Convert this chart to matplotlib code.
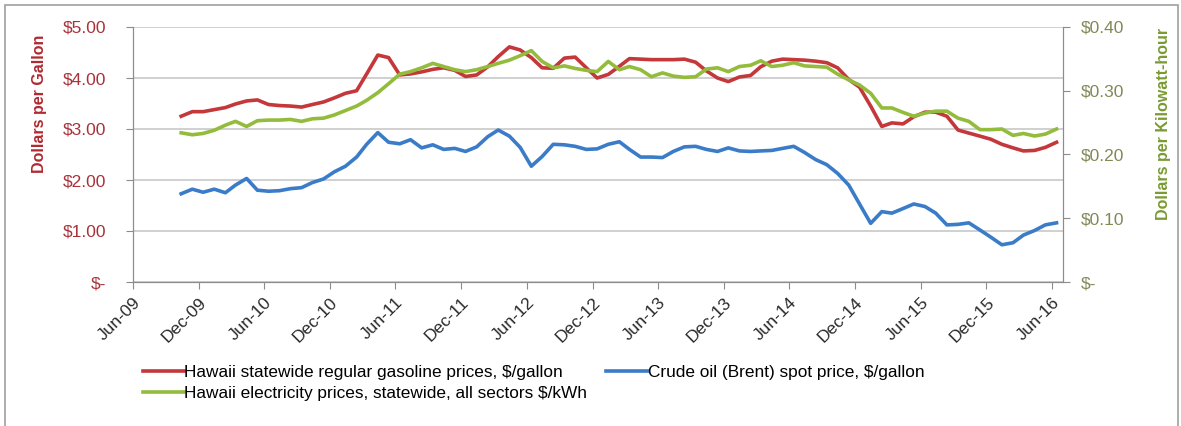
import pandas as pd
import matplotlib.pyplot as plt
import matplotlib.dates as mdates
from matplotlib.patches import Rectangle
from matplotlib.ticker import FuncFormatter, MultipleLocator

plt.rcParams['font.family'] = ['Liberation Sans', 'DejaVu Sans']

# Monthly data, Oct-2009 .. Jun-2016
months = pd.date_range('2009-10-01', '2016-06-01', freq='MS') + pd.Timedelta(days=12)

gasoline = [3.25, 3.34, 3.34, 3.38, 3.42, 3.49, 3.55, 3.57, 3.48, 3.46, 3.45, 3.43,
            3.48, 3.53, 3.61, 3.70, 3.75, 4.08, 4.45, 4.40, 4.06, 4.08, 4.12, 4.17,
            4.20, 4.15, 4.03, 4.06, 4.22, 4.42, 4.61, 4.55, 4.40, 4.20, 4.19, 4.39,
            4.41, 4.20, 4.00, 4.07, 4.23, 4.38, 4.37, 4.36, 4.36, 4.36, 4.37, 4.31,
            4.14, 4.00, 3.93, 4.02, 4.05, 4.22, 4.33, 4.37, 4.36, 4.35, 4.33, 4.30,
            4.20, 3.97, 3.82, 3.45, 3.05, 3.12, 3.10, 3.24, 3.33, 3.33, 3.25, 2.98,
            2.92, 2.86, 2.80, 2.70, 2.63, 2.57, 2.58, 2.64, 2.74]

crude = [1.73, 1.82, 1.76, 1.82, 1.75, 1.90, 2.03, 1.80, 1.78, 1.79, 1.83, 1.85,
         1.95, 2.02, 2.16, 2.27, 2.45, 2.70, 2.93, 2.74, 2.71, 2.79, 2.63, 2.69,
         2.60, 2.62, 2.56, 2.65, 2.85, 2.98, 2.86, 2.64, 2.27, 2.46, 2.70, 2.69,
         2.66, 2.60, 2.61, 2.70, 2.75, 2.60, 2.45, 2.45, 2.44, 2.56, 2.65, 2.66,
         2.60, 2.56, 2.63, 2.57, 2.56, 2.57, 2.58, 2.62, 2.66, 2.54, 2.40, 2.30,
         2.13, 1.90, 1.53, 1.15, 1.38, 1.35, 1.44, 1.53, 1.48, 1.35, 1.12, 1.13,
         1.16, 1.02, 0.88, 0.73, 0.77, 0.92, 1.01, 1.12, 1.16]

electricity = [0.234, 0.231, 0.233, 0.238, 0.246, 0.252, 0.244, 0.253, 0.254, 0.254,
               0.255, 0.252, 0.256, 0.257, 0.262, 0.269, 0.276, 0.285, 0.297, 0.311,
               0.326, 0.330, 0.336, 0.343, 0.338, 0.333, 0.330, 0.333, 0.338, 0.343,
               0.348, 0.355, 0.363, 0.346, 0.336, 0.339, 0.335, 0.332, 0.330, 0.346,
               0.333, 0.338, 0.333, 0.322, 0.328, 0.323, 0.321, 0.322, 0.334, 0.336,
               0.330, 0.338, 0.340, 0.347, 0.338, 0.340, 0.344, 0.339, 0.338, 0.337,
               0.326, 0.317, 0.309, 0.296, 0.273, 0.273, 0.266, 0.260, 0.265, 0.268,
               0.268, 0.257, 0.252, 0.239, 0.239, 0.240, 0.230, 0.233, 0.229, 0.232,
               0.240]

red = '#c4373a'
blue = '#3a7cc8'
green = '#93bb3c'
spine_gray = '#8c8c8c'

fig = plt.figure(figsize=(11.81, 4.26), dpi=100)
ax = fig.add_axes([133 / 1181, 1 - 282 / 426, 930 / 1181, 255 / 426])
ax2 = ax.twinx()

l1, = ax.plot(months, gasoline, color=red, lw=2.6,
              label='Hawaii statewide regular gasoline prices, $/gallon')
l2, = ax.plot(months, crude, color=blue, lw=2.6,
              label='Crude oil (Brent) spot price, $/gallon')
l3, = ax2.plot(months, electricity, color=green, lw=2.6,
               label='Hawaii electricity prices, statewide, all sectors $/kWh')

ax.set_xlim(pd.Timestamp('2009-06-01'), pd.Timestamp('2016-07-01'))
ax.set_ylim(0, 5)
ax2.set_ylim(0, 0.4)

ax.yaxis.set_major_locator(MultipleLocator(1))
ax2.yaxis.set_major_locator(MultipleLocator(0.1))
ax.yaxis.set_major_formatter(FuncFormatter(lambda v, p: '$-' if v == 0 else f'${v:.2f}'))
ax2.yaxis.set_major_formatter(FuncFormatter(lambda v, p: '$-' if abs(v) < 1e-9 else f'${v:.2f}'))

ax.xaxis.set_major_locator(mdates.MonthLocator(bymonth=[6, 12]))
ax.xaxis.set_major_formatter(mdates.DateFormatter('%b-%y'))

ax.grid(axis='y', color='#c8c8c8', lw=1.2)
ax.set_axisbelow(True)

for a in (ax, ax2):
    for s in a.spines.values():
        s.set_color(spine_gray)
    a.spines['top'].set_visible(False)

ax.tick_params(axis='y', colors=spine_gray, labelcolor='#a8323a', labelsize=12.5,
               length=5, pad=14)
ax2.tick_params(axis='y', colors=spine_gray, labelcolor='#7f8a55', labelsize=12.5,
                length=5, pad=8)
ax.tick_params(axis='x', colors=spine_gray, labelcolor='#2a2a2a', labelsize=12.5,
               length=5, pad=4)
for lbl in ax.get_xticklabels():
    lbl.set_rotation(45)
    lbl.set_ha('right')
    lbl.set_rotation_mode('anchor')

ax.set_ylabel('Dollars per Gallon', color='#b02a30', fontweight='bold', fontsize=11.5)
ax.yaxis.set_label_coords(-0.0925, 0.70)
ax2.set_ylabel('Dollars per Kilowatt-hour', color='#7a9a32', fontweight='bold',
               fontsize=11.5)
ax2.yaxis.set_label_coords(1.100, 0.62)

fig.legend(handles=[l1, l3, l2], loc='upper left', bbox_to_anchor=(136 / 1181, 1 - 358 / 426),
           ncol=2, frameon=False, fontsize=12.4, handlelength=2.4, handletextpad=0.0,
           columnspacing=1.1, labelspacing=0.35, borderaxespad=0)

fig.patches.append(Rectangle((5 / 1181, -0.1), 1173 / 1181, 1.1 - 5 / 426,
                             transform=fig.transFigure, fill=False,
                             edgecolor='#a0a0a0', lw=1.2))

fig.savefig('out.png', dpi=100)
